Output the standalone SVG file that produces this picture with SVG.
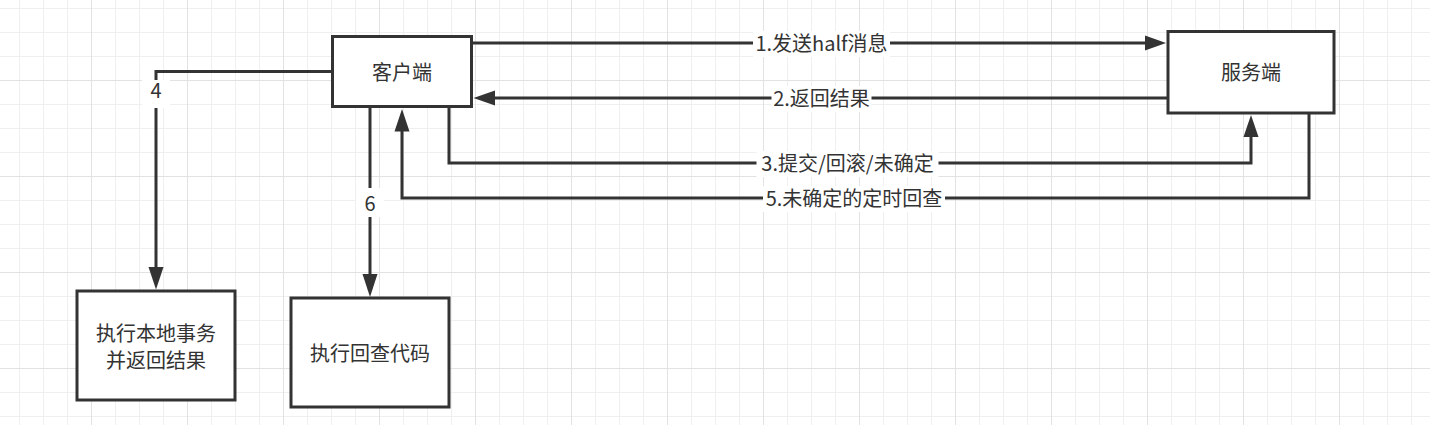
<svg xmlns="http://www.w3.org/2000/svg" width="1430" height="425" viewBox="0 0 1430 425">
<style>
.box{fill:#ffffff;stroke:#333333;stroke-width:3}
.edge{fill:none;stroke:#333333;stroke-width:3}
.head{fill:#333333;stroke:none}
.t{font-family:"Noto Sans CJK SC","Microsoft YaHei",sans-serif;font-size:20px;fill:#333333;text-anchor:middle}
.lbg{fill:#ffffff}
</style>
<defs>
<pattern id="grid" patternUnits="userSpaceOnUse" x="-5" y="-16" width="96" height="96">
<rect x="24" y="0" width="1" height="96" fill="#efefef"/>
<rect x="48" y="0" width="1" height="96" fill="#efefef"/>
<rect x="72" y="0" width="1" height="96" fill="#efefef"/>
<rect x="0" y="24" width="96" height="1" fill="#efefef"/>
<rect x="0" y="48" width="96" height="1" fill="#efefef"/>
<rect x="0" y="72" width="96" height="1" fill="#efefef"/>
<rect x="0" y="0" width="1" height="96" fill="#e2e2e2"/>
<rect x="0" y="0" width="96" height="1" fill="#e2e2e2"/>
</pattern>
</defs>
<rect x="0" y="0" width="1430" height="425" fill="#ffffff"/>
<rect x="0" y="0" width="1430" height="425" fill="url(#grid)"/>

<g id="connectors">
<g id="e1">
<path class="edge" d="M473 43 L1146 43"/>
<polygon class="head" points="1166,43 1145,35.5 1145,50.5"/>
<rect class="lbg" x="753" y="31" width="137" height="26"/>
<text class="t" x="821.5" y="51">1.发送half消息</text>
</g>
<g id="e2">
<path class="edge" d="M1167 98 L493 98"/>
<polygon class="head" points="473.5,98 495,90.5 495,105.5"/>
<rect class="lbg" x="771.5" y="86" width="100" height="26"/>
<text class="t" x="821.5" y="106">2.返回结果</text>
</g>
<g id="e3">
<path class="edge" d="M449 108 L449 163 L1251 163 L1251 135"/>
<polygon class="head" points="1251,115 1243.5,137 1258.5,137"/>
<rect class="lbg" x="756.5" y="151" width="182" height="26"/>
<text class="t" x="847.5" y="171">3.提交/回滚/未确定</text>
</g>
<g id="e4">
<path class="edge" d="M331 71.5 L156 71.5 L156 268"/>
<polygon class="head" points="156,289.5 148.5,267 163.5,267"/>
<rect class="lbg" x="142" y="80" width="28" height="28"/>
<text class="t" x="156" y="98">4</text>
</g>
<g id="e5">
<path class="edge" d="M1309 114 L1309 198 L402 198 L402 130"/>
<polygon class="head" points="402,109 394.5,131.5 409.5,131.5"/>
<rect class="lbg" x="763" y="186" width="182" height="26"/>
<text class="t" x="854" y="206">5.未确定的定时回查</text>
</g>
<g id="e6">
<path class="edge" d="M370 108 L370 275"/>
<polygon class="head" points="370,297 362.5,274 377.5,274"/>
<rect class="lbg" x="356" y="188" width="28" height="29"/>
<text class="t" x="370" y="211">6</text>
</g>
</g>

<g id="client">
<rect class="box" x="332.5" y="36.5" width="139" height="70"/>
<text class="t" x="402" y="80">客户端</text>
</g>
<g id="server">
<rect class="box" x="1168" y="31.5" width="166" height="81.5"/>
<text class="t" x="1251" y="80">服务端</text>
</g>
<g id="local-tx">
<rect class="box" x="77" y="291" width="158" height="109"/>
<text class="t" x="156" y="340.5">执行本地事务</text>
<text class="t" x="156" y="367.5">并返回结果</text>
</g>
<g id="check-code">
<rect class="box" x="291" y="298" width="158" height="109"/>
<text class="t" x="370" y="361">执行回查代码</text>
</g>
</svg>
